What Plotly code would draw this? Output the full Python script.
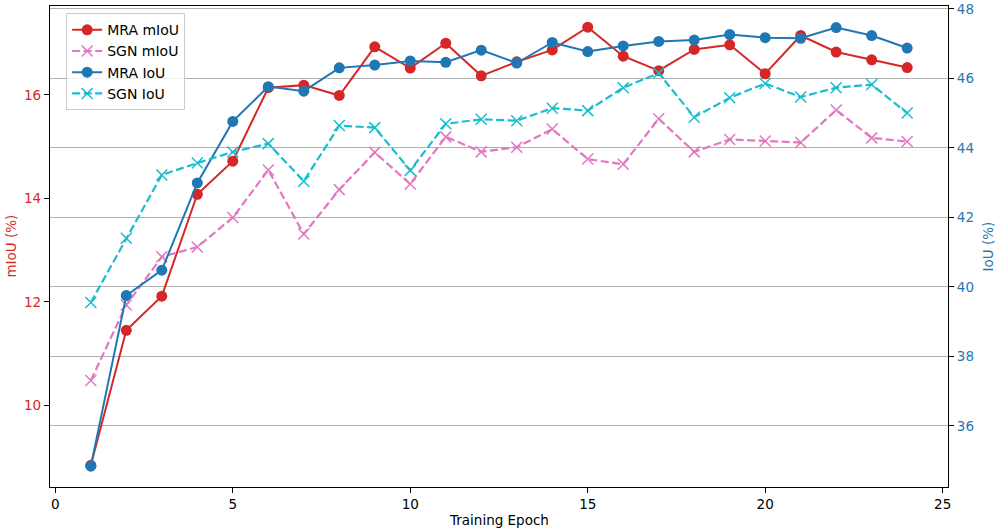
import plotly.graph_objects as go

epochs = list(range(1, 25))

mra_miou = [8.84, 11.45, 12.11, 14.08, 14.72, 16.14, 16.19, 15.99, 16.93, 16.52, 17.00, 16.37,
            16.64, 16.87, 17.31, 16.75, 16.47, 16.88, 16.97, 16.41, 17.15, 16.83, 16.68, 16.53]
sgn_miou = [10.48, 11.94, 12.87, 13.06, 13.63, 14.55, 13.31, 14.17, 14.89, 14.28, 15.19, 14.90,
            14.99, 15.34, 14.76, 14.66, 15.54, 14.90, 15.14, 15.11, 15.08, 15.71, 15.17, 15.10]
mra_iou = [34.84, 39.75, 40.48, 42.99, 44.76, 45.76, 45.63, 46.30, 46.38, 46.50, 46.46, 46.81,
           46.44, 47.03, 46.77, 46.93, 47.06, 47.10, 47.26, 47.17, 47.15, 47.46, 47.23, 46.87]
sgn_iou = [39.55, 41.40, 43.22, 43.56, 43.88, 44.12, 43.04, 44.64, 44.58, 43.35, 44.69, 44.82,
           44.78, 45.14, 45.07, 45.73, 46.15, 44.88, 45.44, 45.85, 45.46, 45.73, 45.82, 45.00]

x_ticks = [0, 5, 10, 15, 20, 25]
left_ticks = [10, 12, 14, 16]
right_ticks = [36, 38, 40, 42, 44, 46, 48]

RED = "#d62728"
PINK = "#e377c2"
BLUE = "#1f77b4"
CYAN = "#17becf"
FONT = "DejaVu Sans"
FS = 13.5

fig = go.Figure()
fig.add_trace(go.Scatter(x=epochs, y=mra_miou, name="MRA mIoU", mode="lines+markers",
                         line=dict(color=RED, width=2),
                         marker=dict(symbol="circle", size=11, color=RED), yaxis="y"))
fig.add_trace(go.Scatter(x=epochs, y=sgn_miou, name="SGN mIoU", mode="lines+markers",
                         line=dict(color=PINK, width=2.2, dash="8px,3.5px"),
                         marker=dict(symbol="x-thin", size=11, color=PINK,
                                     line=dict(color=PINK, width=1.5)), yaxis="y"))
fig.add_trace(go.Scatter(x=epochs, y=mra_iou, name="MRA IoU", mode="lines+markers",
                         line=dict(color=BLUE, width=2),
                         marker=dict(symbol="circle", size=11, color=BLUE), yaxis="y2"))
fig.add_trace(go.Scatter(x=epochs, y=sgn_iou, name="SGN IoU", mode="lines+markers",
                         line=dict(color=CYAN, width=2.2, dash="8px,3.5px"),
                         marker=dict(symbol="x-thin", size=11, color=CYAN,
                                     line=dict(color=CYAN, width=1.5)), yaxis="y2"))

fig.update_layout(
    width=997, height=532,
    margin=dict(l=50, r=49, t=6, b=45, autoexpand=False),
    paper_bgcolor="white", plot_bgcolor="white",
    font=dict(family=FONT, size=13, color="black"),
    showlegend=True,
    legend=dict(x=0.018, y=0.985, xanchor="left", yanchor="top",
                bgcolor="rgba(255,255,255,0.8)", bordercolor="#cccccc", borderwidth=1,
                font=dict(family=FONT, size=14, color="black"),
                tracegroupgap=0, itemwidth=30),
    xaxis=dict(range=[-0.15, 25.15], tickvals=x_ticks, ticks="outside", ticklen=5,
               tickcolor="black", showgrid=False, zeroline=False, automargin=False,
               showline=True, linecolor="black", linewidth=1.2, mirror=True,
               tickfont=dict(family=FONT, size=FS)),
    yaxis=dict(range=[8.42, 17.72], tickvals=left_ticks, ticks="outside", ticklen=5,
               tickcolor="black", showgrid=False, zeroline=False, automargin=False,
               showline=True, linecolor="black", linewidth=1.2,
               tickfont=dict(family=FONT, size=FS, color=RED)),
    yaxis2=dict(range=[34.24, 48.08], tickvals=right_ticks, ticks="outside", ticklen=5,
                tickcolor="black", overlaying="y", side="right", automargin=False,
                showgrid=True, gridcolor="#b0b0b0", gridwidth=1, zeroline=False,
                showline=True, linecolor="black", linewidth=1.2,
                tickfont=dict(family=FONT, size=FS, color=BLUE)),
    annotations=[
        dict(text="Training Epoch", xref="paper", yref="paper", x=0.5, y=-0.069,
             xanchor="center", yanchor="middle", showarrow=False,
             font=dict(family=FONT, size=FS, color="black")),
        dict(text="mIoU (%)", xref="paper", yref="paper", x=-0.0445, y=0.5,
             xanchor="center", yanchor="middle", textangle=-90, showarrow=False,
             font=dict(family=FONT, size=FS, color=RED)),
        dict(text="IoU (%)", xref="paper", yref="paper", x=1.0445, y=0.5,
             xanchor="center", yanchor="middle", textangle=-90, showarrow=False,
             font=dict(family=FONT, size=FS, color=BLUE)),
    ],
)

fig.write_html("out.html", config={"displayModeBar": False},
               post_script="document.body.style.margin='0';document.body.style.padding='0';")
